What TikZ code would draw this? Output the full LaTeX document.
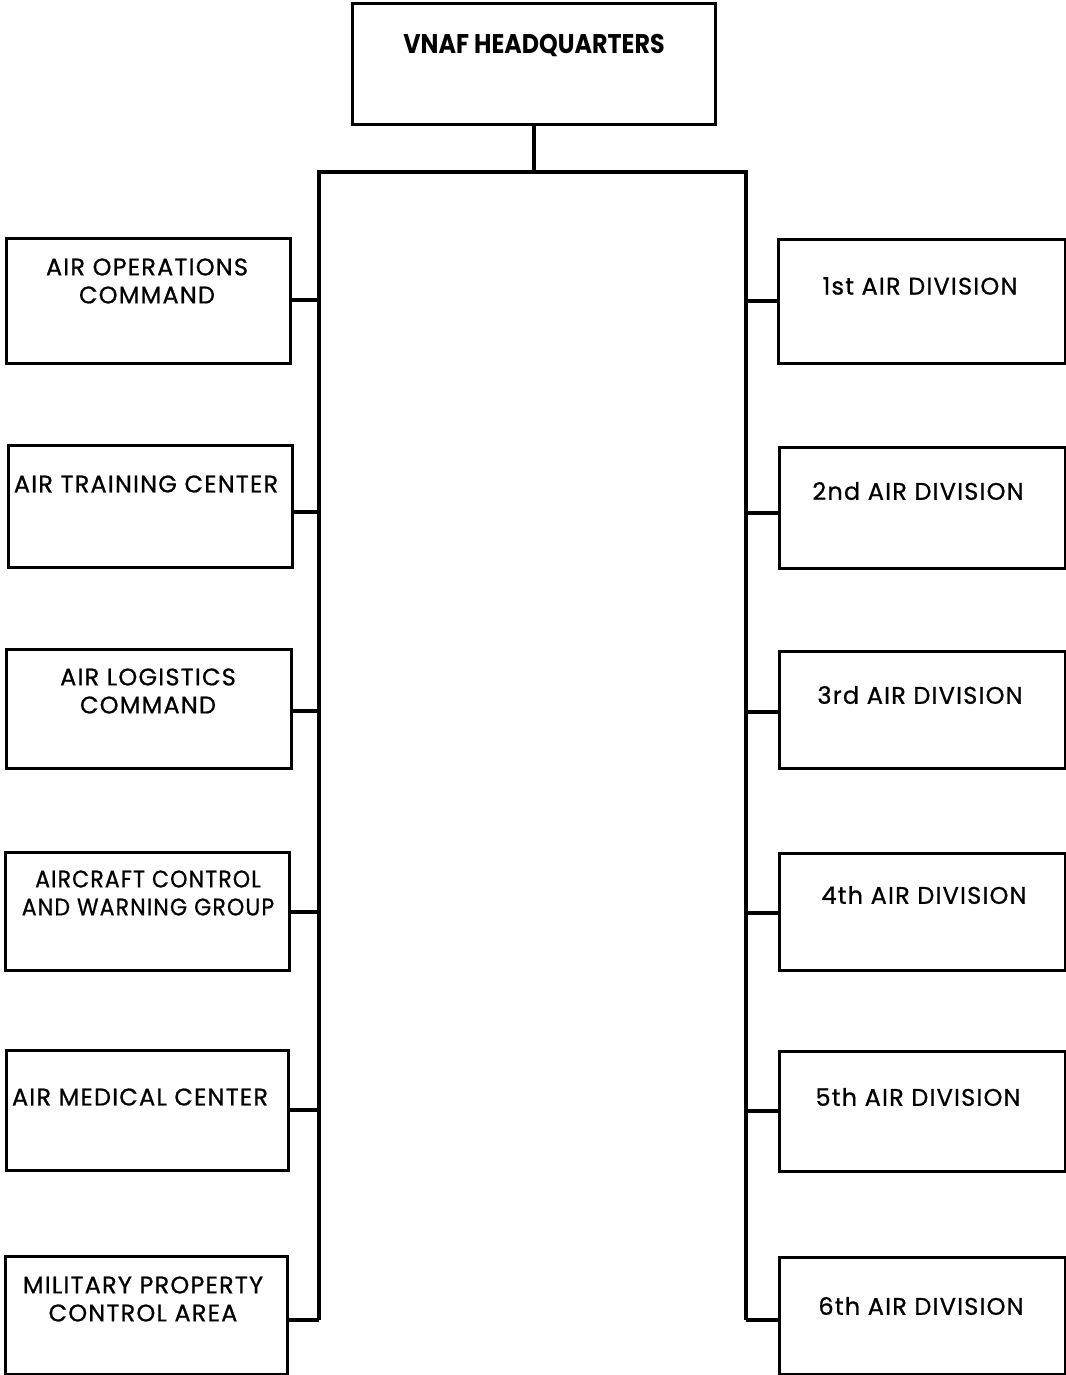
\documentclass[tikz,border=0pt]{standalone}
\usepackage{fontspec}
\setmainfont{Poppins}
\newfontfamily\labfont[LetterSpace=5,FakeBold=0.8]{Poppins}
\newfontfamily\hqfont{Poppins}
\begin{document}
\begin{tikzpicture}[x=1pt,y=-1pt,
  box/.style={draw,line width=2.8pt,inner sep=0pt,anchor=north west},
  lbl/.style={align=center,inner sep=0pt,font=\labfont\fontsize{24}{28}\selectfont},
  conn/.style={line width=3.8pt}]
\useasboundingbox (0,0) rectangle (1065,1375);
% HQ
\node[box,minimum width=363pt,minimum height=121pt] (hq) at (351,2) {};
\node[inner sep=0pt,font=\hqfont\bfseries\fontsize{27}{30}\selectfont,xscale=0.88] (hqt) at (534,46) {VNAF HEADQUARTERS};
% bus
\coordinate (bt) at (533,172);
\coordinate (blt) at (319,172);
\coordinate (brt) at (746,172);
\coordinate (blb) at (319,1320);
\coordinate (brb) at (746,1320);
\draw[conn] (hq.south) -- (hq.south |- bt);
\draw[conn,line join=miter] (blb) -- (blt) -- (brt) -- (brb);
% left boxes
\node[box,minimum width=284pt,minimum height=125pt] (l1) at (5,237) {};
\node[box,minimum width=284pt,minimum height=122pt] (l2) at (7,444) {};
\node[box,minimum width=285pt,minimum height=119pt] (l3) at (5,648) {};
\node[box,minimum width=284pt,minimum height=118pt] (l4) at (4,851) {};
\node[box,minimum width=282pt,minimum height=120pt] (l5) at (5,1049) {};
\node[box,minimum width=282pt,minimum height=118pt] (l6) at (4,1255) {};
\node[lbl] (l1t) at (147,281) {AIR OPERATIONS\\COMMAND};
\node[lbl] (l2t) at (146,484) {AIR TRAINING CENTER};
\node[lbl] (l3t) at (148,691) {AIR LOGISTICS\\COMMAND};
\node[lbl,xscale=0.92] (l4t) at (148,893) {AIRCRAFT CONTROL\\AND WARNING GROUP};
\node[lbl] (l5t) at (140,1097) {AIR MEDICAL CENTER};
\node[lbl] (l6t) at (143,1299) {MILITARY PROPERTY\\CONTROL AREA};
% right boxes
\node[box,minimum width=287pt,minimum height=124pt] (r1) at (777,238) {};
\node[box,minimum width=286pt,minimum height=121pt] (r2) at (778,446) {};
\node[box,minimum width=286pt,minimum height=117pt] (r3) at (778,650) {};
\node[box,minimum width=286pt,minimum height=117pt] (r4) at (778,852) {};
\node[box,minimum width=286pt,minimum height=120pt] (r5) at (778,1050) {};
\node[box,minimum width=286pt,minimum height=117pt] (r6) at (778,1256) {};
\node[lbl] (r1t) at (920,286) {1st AIR DIVISION};
\node[lbl] (r2t) at (918,491) {2nd AIR DIVISION};
\node[lbl] (r3t) at (920,695) {3rd AIR DIVISION};
\node[lbl] (r4t) at (924,895) {4th AIR DIVISION};
\node[lbl] (r5t) at (918,1097) {5th AIR DIVISION};
\node[lbl] (r6t) at (921,1306) {6th AIR DIVISION};
% connectors
\foreach \b/\y in {l1/300,l2/512,l3/711,l4/912,l5/1110}
  \draw[conn] (319,\y) -- (\b.east |- 0,\y);
\draw[conn] (blb) -- (l6.east |- blb);
\foreach \b/\y in {r1/301,r2/513,r3/712,r4/913,r5/1111}
  \draw[conn] (746,\y) -- (\b.west |- 0,\y);
\draw[conn] (brb) -- (r6.west |- brb);
\end{tikzpicture}
\end{document}
